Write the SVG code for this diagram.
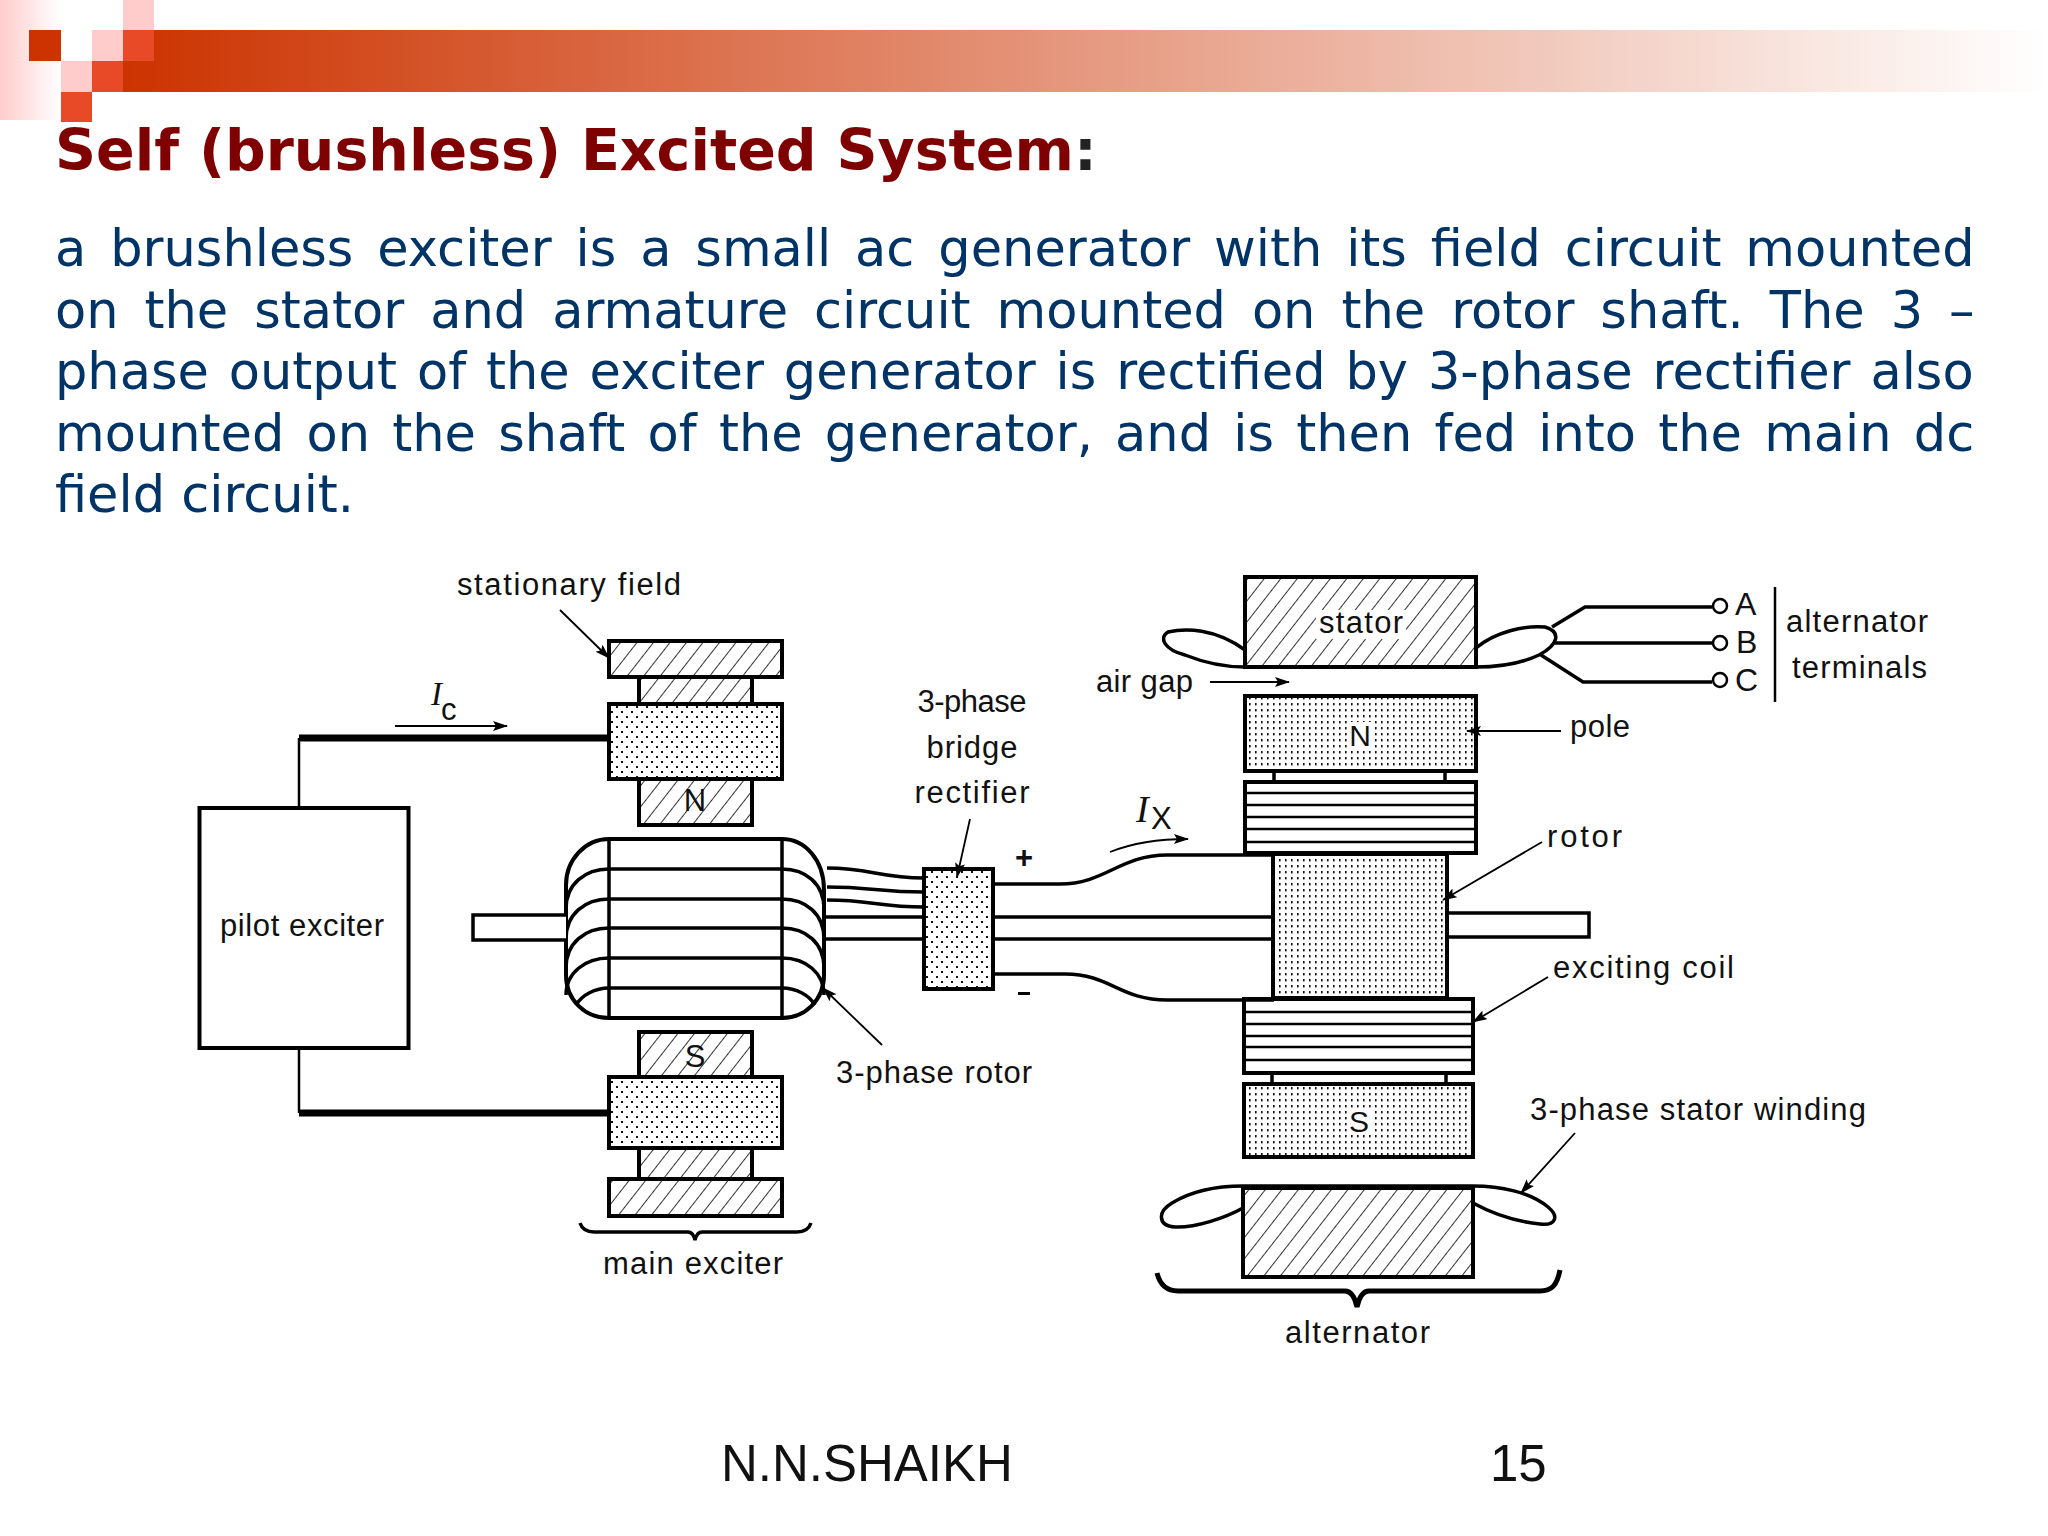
<svg xmlns="http://www.w3.org/2000/svg" width="2048" height="1536" viewBox="0 0 2048 1536">
<style>
.s{fill:none;stroke:#000;stroke-width:3.5}
.h{fill:url(#hatch);stroke:#000;stroke-width:4}
.d{fill:url(#dots);stroke:#000;stroke-width:4}
.e{fill:url(#dots2);stroke:#000;stroke-width:4}
.c{fill:#fff;stroke:#000;stroke-width:4}
.t{fill:none;stroke:#000;stroke-width:2.5}
.w{fill:none;stroke:#000;stroke-width:7}
.a{fill:none;stroke:#000;stroke-width:1.8;marker-end:url(#arr)}
.l{font-family:"Liberation Sans",Arial,sans-serif;font-size:31px;fill:#111}
.m{text-anchor:middle}
.b{font-family:"DejaVu Sans",Verdana,sans-serif;font-size:51px;fill:#003366}
.f{font-family:"Liberation Sans",Arial,sans-serif;font-size:51px;fill:#111}
.i{font-family:"Liberation Serif",serif;font-style:italic;font-size:33px;fill:#111}
</style>
<defs>
<linearGradient id="bar" x1="0" x2="1" y1="0" y2="0"><stop offset="0" stop-color="#CC3300"/><stop offset="1" stop-color="#fff"/></linearGradient>
<linearGradient id="fade" x1="0" x2="1" y1="0" y2="0"><stop offset="0" stop-color="#FFCCCC"/><stop offset="1" stop-color="#fff"/></linearGradient>
<pattern id="hatch" width="13" height="13" patternUnits="userSpaceOnUse" patternTransform="rotate(38)"><rect width="13" height="13" fill="#fff"/><line x1="0" y1="0" x2="0" y2="13" stroke="#000" stroke-width="1.6"/></pattern>
<pattern id="dots" width="10" height="10" patternUnits="userSpaceOnUse"><rect width="10" height="10" fill="#fff"/><rect x="1" y="1" width="2" height="2" fill="#111"/><rect x="6" y="6" width="2" height="2" fill="#111"/></pattern>
<pattern id="dots2" width="6" height="6" patternUnits="userSpaceOnUse"><rect width="6" height="6" fill="#fff"/><rect x="1" y="1" width="1.6" height="2.4" fill="#111"/></pattern>
<marker id="arr" markerUnits="userSpaceOnUse" markerWidth="16" markerHeight="12" refX="14" refY="5" orient="auto"><path d="M0,0 L15,5 L0,10 L3,5Z" fill="#000"/></marker>
</defs>
<rect width="2048" height="1536" fill="#fff"/>
<g id="banner">
<rect x="0" y="0" width="61" height="120" fill="url(#fade)"/>
<rect x="123" y="30" width="1925" height="62" fill="url(#bar)"/>
<rect x="123" y="0" width="31" height="30" fill="#FFCCCC"/>
<rect x="92" y="30" width="31" height="31" fill="#FFCCCC"/>
<rect x="123" y="30" width="31" height="31" fill="#E84A27"/>
<rect x="29" y="30" width="32" height="31" fill="#CC3300"/>
<rect x="61" y="61" width="31" height="31" fill="#FFCCCC"/>
<rect x="92" y="61" width="31" height="31" fill="#E84A27"/>
<rect x="61" y="92" width="31" height="30" fill="#E84A27"/>
</g>
<text id="title" x="55" y="170" font-family="'DejaVu Sans',Verdana,sans-serif" font-weight="700" font-size="57" fill="#7F0000">Self (brushless) Excited System<tspan fill="#222">:</tspan></text>
<g id="body">
<text class="b" x="55" y="266" word-spacing="7.7">a brushless exciter is a small ac generator with its field circuit mounted</text>
<text class="b" x="55" y="328" word-spacing="9.8">on the stator and armature circuit mounted on the rotor shaft. The 3 –</text>
<text class="b" x="55" y="389" word-spacing="3.7">phase output of the exciter generator is rectified by 3-phase rectifier also</text>
<text class="b" x="55" y="451" word-spacing="6">mounted on the shaft of the generator, and is then fed into the main dc</text>
<text class="b" x="55" y="512">field circuit.</text>
</g>
<g id="pilot-exciter">
<rect class="c" x="199.5" y="808" width="209" height="240"/>
<text class="l m" x="302" y="936" textLength="164" lengthAdjust="spacing">pilot exciter</text>
</g>
<g id="main-exciter-top">
<rect class="h" x="639" y="677" width="113" height="27"/>
<rect class="h" x="609" y="641" width="173" height="36"/>
<rect class="h" x="639" y="779" width="113" height="46"/>
<rect class="d" x="609" y="704" width="173" height="75"/>
<text class="l m" x="695" y="811" font-size="30">N</text>
<text class="l" x="457" y="595" textLength="224" lengthAdjust="spacing">stationary field</text>
<text class="i" x="431" y="705">I</text>
<text class="l" x="441" y="720" font-size="24">c</text>
</g>
<g id="main-exciter-bottom">
<rect class="h" x="639" y="1032" width="113" height="45"/>
<rect class="h" x="639" y="1148" width="113" height="31"/>
<rect class="h" x="609" y="1179" width="173" height="37"/>
<rect class="d" x="609" y="1077" width="173" height="71"/>
<text class="l m" x="695" y="1067" font-size="30">S</text>
<path class="s" d="M580,1223C582,1229 586,1232 594,1232H688C692,1232 694,1236 695,1240C696,1236 698,1232 702,1232H797C805,1232 809,1229 811,1223"/>
<text class="l" x="603" y="1274" textLength="180" lengthAdjust="spacing">main exciter</text>
</g>
<g id="three-phase-rotor">
<path class="h" style="fill:#fff" d="M609,839H782C805,839 824,860 824,890V975C824,1000 805,1018 782,1018H609C585,1018 566,1000 566,975V885C566,860 585,839 609,839Z"/>
<path class="s" d="M609,839V1018M782,839V1018"/>
<path class="s" d="M609,869H782M609,899H782M609,928H782M609,958H782M609,988H782"/>
<path class="s" d="M609,869C585,869 566,884 566,909M609,899C585,899 566,914 566,939M609,928C585,928 566,943 566,968M609,958C585,958 566,973 566,995M609,988C595,988 582,995 576,1005"/>
<path class="s" d="M782,869C806,869 824,884 824,909M782,899C806,899 824,914 824,939M782,928C806,928 824,943 824,968M782,958C806,958 824,973 824,995M782,988C796,988 809,995 815,1005"/>
<path class="s" style="fill:#fff" d="M566,915H473V940H566"/>
<text class="l" x="836" y="1083" textLength="196" lengthAdjust="spacing">3-phase rotor</text>
</g>
<g id="rectifier">
<rect class="d" x="924" y="869" width="69" height="120"/>
<text class="l m" x="972" y="712" textLength="109" lengthAdjust="spacing">3-phase</text>
<text class="l m" x="972" y="758" textLength="91" lengthAdjust="spacing">bridge</text>
<text class="l m" x="972" y="803" textLength="115" lengthAdjust="spacing">rectifier</text>
<text class="l m" x="1024" y="868" font-size="28" font-weight="700">+</text>
<rect x="1018" y="992" width="12" height="3" fill="#000"/>
<text class="i" x="1136" y="822" style="font-size:38px">I</text>
<text class="l" x="1151" y="829" font-size="24">X</text>
</g>
<g id="alternator-stator-top">
<path class="s" d="M1245,650C1215,628 1185,628 1168,632C1158,638 1165,650 1185,655C1205,663 1225,667 1245,667"/>
<path class="s" d="M1476,648C1495,632 1525,625 1545,627C1562,632 1558,645 1539,655C1520,664 1500,667 1476,667"/>
<rect class="h" x="1245" y="577" width="231" height="90"/>
<rect x="1316" y="610" width="90" height="29" fill="#fff"/>
<text class="l" x="1319" y="633" textLength="84" lengthAdjust="spacing">stator</text>
<circle class="c" style="stroke-width:2.5" cx="1720" cy="606" r="7"/>
<circle class="c" style="stroke-width:2.5" cx="1720" cy="643" r="7"/>
<circle class="c" style="stroke-width:2.5" cx="1720" cy="680" r="7"/>
<text class="l" x="1735" y="615" font-size="32" style="font-size:32px">A</text>
<text class="l" x="1736" y="653" style="font-size:32px">B</text>
<text class="l" x="1735" y="691" style="font-size:32px">C</text>
<text class="l" x="1786" y="632" textLength="142" lengthAdjust="spacing">alternator</text>
<text class="l" x="1792" y="678" textLength="135" lengthAdjust="spacing">terminals</text>
<text class="l" x="1096" y="692" textLength="97" lengthAdjust="spacing">air gap</text>
</g>
<g id="pole-n">
<rect class="e" x="1245" y="696" width="231" height="75"/>
<rect x="1347" y="722" width="26" height="26" fill="#fff"/>
<text class="l m" x="1360" y="746" style="font-size:30px">N</text>
<path class="s" d="M1274,771V782M1445,771V782"/>
<text class="l" x="1570" y="737" textLength="60" lengthAdjust="spacing">pole</text>
</g>
<g id="coil-top">
<rect class="c" x="1245" y="782" width="231" height="71"/>
<path class="t" d="M1245,793H1476M1245,805H1476M1245,817H1476M1245,829H1476M1245,842H1476"/>
</g>
<g id="alternator-rotor">
<path class="s" style="fill:#fff" d="M1447,913H1589V937H1447"/>
<rect class="e" x="1273" y="854" width="174" height="144"/>
<text class="l" x="1547" y="847" textLength="75" lengthAdjust="spacing">rotor</text>
</g>
<g id="coil-bottom">
<rect class="c" x="1244" y="999" width="229" height="74"/>
<path class="t" d="M1244,1012H1473M1244,1024H1473M1244,1036H1473M1244,1047H1473M1244,1060H1473"/>
<path class="s" d="M1272,1073V1084M1446,1073V1084"/>
<text class="l" x="1553" y="978" textLength="181" lengthAdjust="spacing">exciting coil</text>
</g>
<g id="pole-s">
<rect class="e" x="1244" y="1084" width="229" height="73"/>
<rect x="1348" y="1108" width="24" height="26" fill="#fff"/>
<text class="l m" x="1359" y="1132" style="font-size:30px">S</text>
</g>
<g id="alternator-stator-bottom">
<path class="s" d="M1243,1208C1225,1218 1195,1228 1175,1227C1158,1226 1157,1212 1172,1203C1190,1192 1215,1186 1243,1186H1473C1500,1186 1530,1192 1548,1207C1560,1217 1555,1226 1540,1224C1520,1222 1495,1215 1473,1203"/>
<rect class="h" x="1243" y="1188" width="230" height="89"/>
<text class="l" x="1530" y="1120" textLength="336" lengthAdjust="spacing">3-phase stator winding</text>
<path d="M1157,1273C1160,1285 1167,1291 1178,1291H1345C1352,1291 1355,1298 1357,1307C1359,1298 1362,1291 1369,1291H1540C1552,1291 1557,1285 1560,1270" fill="none" stroke="#000" stroke-width="5"/>
<text class="l" x="1285" y="1343" textLength="145" lengthAdjust="spacing">alternator</text>
</g>
<g id="connectors">
<path class="t" d="M299,808V738M299,1048V1113"/>
<path class="w" d="M299,738H609M299,1113H609"/>
<path class="s" d="M827,868C870,868 880,878 924,878M827,887C870,887 880,892 924,892M827,900C870,900 880,907 924,907"/>
<path class="s" d="M824,917H924M824,939H924"/>
<path class="s" d="M993,917H1272M993,939H1272"/>
<path class="s" d="M993,884H1060C1105,884 1120,855 1167,855H1274"/>
<path class="s" d="M993,974H1065C1110,974 1120,1000 1167,1000H1274"/>
<path class="s" d="M1552,627L1585,607H1712M1555,643H1712M1541,655L1583,682H1712"/>
<path class="t" d="M1775,587V702"/>
<path class="a" d="M395,726H507"/>
<path class="a" d="M560,610L609,658"/>
<path class="a" d="M1110,852C1135,842 1160,839 1188,839"/>
<path class="a" d="M970,819L957,877"/>
<path class="a" d="M882,1045L823,988"/>
<path class="a" d="M1210,682H1289"/>
<path class="a" d="M1561,731H1467"/>
<path class="a" d="M1542,842L1443,900"/>
<path class="a" d="M1548,977L1473,1022"/>
<path class="a" d="M1575,1133L1521,1193"/>
</g>
<g id="footer">
<text class="f" x="721" y="1481">N.N.SHAIKH</text>
<text class="f" x="1490" y="1481">15</text>
</g>
</svg>
